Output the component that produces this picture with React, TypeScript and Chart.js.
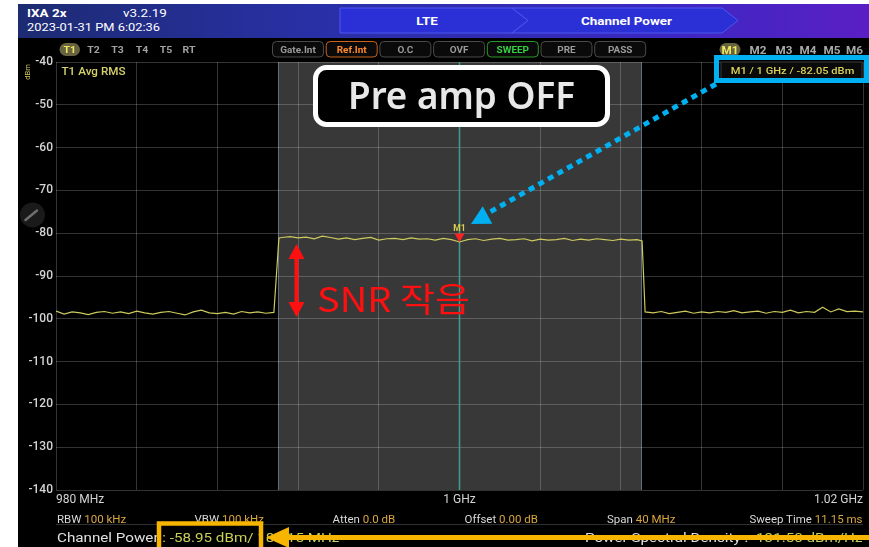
import React, { useEffect, useRef } from "react";
import { Chart, registerables } from "chart.js";

Chart.register(...registerables);

// ---------------- data ----------------
const FREQ_MHZ: number[] = [
  980.0, 980.4, 980.8, 981.2, 981.6, 982.0, 982.4, 982.8, 983.2, 983.6,
  984.0, 984.4, 984.8, 985.2, 985.6, 986.0, 986.4, 986.8, 987.2, 987.6,
  988.0, 988.4, 988.8, 989.2, 989.6, 990.0, 990.4, 990.8, 991.05,
  991.2, 991.6, 992.0, 992.4, 992.8, 993.2, 993.6, 994.0, 994.4, 994.8,
  995.2, 995.6, 996.0, 996.4, 996.8, 997.2, 997.6, 998.0, 998.4, 998.8,
  999.2, 999.6, 1000.0, 1000.4, 1000.8, 1001.2, 1001.6, 1002.0, 1002.4, 1002.8,
  1003.2, 1003.6, 1004.0, 1004.4, 1004.8, 1005.2, 1005.6, 1006.0, 1006.4, 1006.8,
  1007.2, 1007.6, 1008.0, 1008.4, 1008.8, 1009.05, 1009.2,
  1009.6, 1010.0, 1010.4, 1010.8, 1011.2, 1011.6, 1012.0, 1012.4, 1012.8, 1013.2,
  1013.6, 1014.0, 1014.4, 1014.8, 1015.2, 1015.6, 1016.0, 1016.4, 1016.8, 1017.2,
  1017.6, 1018.0, 1018.4, 1018.8, 1019.2, 1019.6, 1020.0,
];

const LEVEL_DBM: number[] = [
  -98.2, -98.9, -98.4, -98.6, -99.0, -98.5, -98.3, -98.7, -98.4, -98.8,
  -98.2, -98.6, -98.9, -98.5, -98.3, -98.7, -99.1, -98.4, -98.0, -98.6,
  -98.8, -98.5, -98.9, -98.3, -98.6, -98.4, -98.7, -98.5, -81.1,
  -81.0, -80.8, -81.1, -80.9, -81.3, -80.7, -81.0, -81.4, -81.1, -81.5,
  -81.2, -81.0, -81.6, -81.3, -81.2, -81.5, -81.1, -81.4, -81.3, -81.6,
  -81.2, -81.5, -82.05, -81.5, -81.3, -81.7, -81.4, -81.2, -81.6, -81.5,
  -81.3, -81.8, -81.4, -81.6, -81.5, -81.2, -81.7, -81.4, -81.6, -81.3,
  -81.5, -81.7, -81.4, -81.6, -81.5, -81.8, -98.4,
  -98.6, -98.3, -98.8, -98.5, -98.2, -98.7, -98.4, -98.6, -98.3, -98.5,
  -98.1, -98.6, -98.4, -98.2, -98.7, -98.3, -98.5, -98.0, -98.6, -98.3,
  -98.5, -97.3, -98.4, -97.7, -98.3, -98.2, -98.4,
];

const Y_MIN = -140;
const Y_MAX = -40;
const Y_STEP = 10;
const X_MIN = 980;
const X_MAX = 1020;
const X_STEP = 4;
const X_TICK_VALUES = [980, 1000, 1020];
const X_TICK_TEXT = ["980 MHz", "1 GHz", "1.02 GHz"];
const CHANNEL_START_MHZ = 991;
const CHANNEL_STOP_MHZ = 1009;
const MARKER_FREQ_MHZ = 1000;
const MARKER_LEVEL_DBM = -82.05;

const TRACE_TABS = ["T1", "T2", "T3", "T4", "T5", "RT"];
const STATUS_PILLS = ["Gate.Int", "Ref.Int", "O.C", "OVF", "SWEEP", "PRE", "PASS"];
const MARKER_TABS = ["M1", "M2", "M3", "M4", "M5", "M6"];
const PARAM_NAMES = ["RBW", "VBW", "Atten", "Offset", "Span", "Sweep Time"];
const PARAM_VALUES = ["100 kHz", "100 kHz", "0.0 dB", "0.00 dB", "40 MHz", "11.15 ms"];

// ---------------- layout constants ----------------
const W = 869;
const H = 547;
const SX = 1.17;
const GRID = "rgba(255,255,255,0.2)";
const CYAN = "#00b0f0";
const ORANGE = "#f7b500";
const RED = "#ff1010";

const spectrumPlugin = {
  id: "spectrumDecor",
  beforeDraw(chart: any) {
    const { ctx, chartArea: a, scales } = chart;
    const xs = scales.x;
    const x1 = xs.getPixelForValue(CHANNEL_START_MHZ);
    const x2 = xs.getPixelForValue(CHANNEL_STOP_MHZ);
    ctx.save();
    ctx.fillStyle = "#000";
    ctx.fillRect(a.left, a.top, a.right - a.left, a.bottom - a.top);
    ctx.fillStyle = "#383838";
    ctx.fillRect(x1, a.top, x2 - x1, a.bottom - a.top);
    ctx.strokeStyle = "#5f6c80";
    ctx.lineWidth = 1;
    [x1, x2].forEach((px: number) => {
      ctx.beginPath();
      ctx.moveTo(Math.round(px) + 0.5, a.top);
      ctx.lineTo(Math.round(px) + 0.5, a.bottom);
      ctx.stroke();
    });
    ctx.restore();
  },
  beforeDatasetsDraw(chart: any) {
    const { ctx, chartArea: a, scales } = chart;
    const mx = scales.x.getPixelForValue(MARKER_FREQ_MHZ);
    ctx.save();
    ctx.strokeStyle = "#3c9d92";
    ctx.lineWidth = 1.5;
    ctx.beginPath();
    ctx.moveTo(mx, a.top);
    ctx.lineTo(mx, a.bottom);
    ctx.stroke();
    ctx.restore();
  },
  afterDatasetsDraw(chart: any) {
    const { ctx, scales } = chart;
    const mx = scales.x.getPixelForValue(MARKER_FREQ_MHZ);
    const my = scales.y.getPixelForValue(MARKER_LEVEL_DBM);
    ctx.save();
    ctx.fillStyle = "#ff2020";
    ctx.beginPath();
    ctx.moveTo(mx, my);
    ctx.lineTo(mx - 5, my - 8.5);
    ctx.lineTo(mx + 5, my - 8.5);
    ctx.closePath();
    ctx.fill();
    ctx.fillStyle = "#d8cf50";
    ctx.font = "bold 8.5px Roboto";
    ctx.textAlign = "center";
    ctx.textBaseline = "middle";
    ctx.fillText("M1", mx, my - 13.5);
    ctx.restore();
  },
};

function T(props: {
  x: number;
  y: number;
  size: number;
  weight?: number | string;
  fill?: string;
  anchor?: "start" | "middle" | "end";
  sx?: number;
  children: React.ReactNode;
}) {
  const { x, y, size, weight = 400, fill = "#dcdcdc", anchor = "start", sx = SX, children } = props;
  return (
    <text
      transform={`translate(${x} ${y}) scale(${sx} 1)`}
      fontFamily="Roboto, 'Noto Sans', sans-serif"
      fontSize={size}
      fontWeight={weight}
      fill={fill}
      textAnchor={anchor}
    >
      {children}
    </text>
  );
}

function Overlay() {
  const tabCenters = [69.7, 93.5, 117.5, 142, 166, 189];
  const mCenters = [730, 758, 784, 808, 832, 854.5];
  const paramX = [57, 194.5, 332.5, 464.5, 607, 862.5];
  const tip = { x: 471, y: 224 };
  const baseC = { x: 487.5, y: 215 };
  const perp = { x: 0.476, y: 0.879 };
  return (
    <svg
      width={W}
      height={H}
      style={{ position: "absolute", left: 0, top: 0, pointerEvents: "none" }}
    >
      <defs>
        <linearGradient id="hdr" x1="0" x2="1" y1="0" y2="0">
          <stop offset="0" stopColor="#1d2b72" />
          <stop offset="0.35" stopColor="#2930a6" />
          <stop offset="0.75" stopColor="#3a28c2" />
          <stop offset="1" stopColor="#5a1fc4" />
        </linearGradient>
      </defs>
      {/* header bar */}
      <rect x={18} y={4} width={W - 18} height={34} fill="url(#hdr)" />
      <polygon points="340,8 512,8 528,20.5 512,33 340,33" fill="#2b30d6" stroke="#4e56f0" strokeWidth={1} />
      <polygon points="512,8 722,8 738,20.5 722,33 512,33 528,20.5" fill="#2b30d6" stroke="#4e56f0" strokeWidth={1} />
      <T x={27} y={16.5} size={11.5} weight={700} fill="#ffffff">IXA 2x</T>
      <T x={123} y={16.5} size={11.5} fill="#ffffff">v3.2.19</T>
      <T x={27} y={30.5} size={11} fill="#ffffff">2023-01-31 PM 6:02:36</T>
      <T x={427} y={24.5} size={11.5} weight={700} fill="#ffffff" anchor="middle">LTE</T>
      <T x={626.5} y={24.5} size={11.5} weight={700} fill="#ffffff" anchor="middle">Channel Power</T>

      {/* trace tabs */}
      <rect x={59.5} y={43} width={20.5} height={13} rx={6.5} fill="#676340" />
      {TRACE_TABS.map((t, i) => (
        <T key={t} x={tabCenters[i]} y={53} size={9} weight={700} anchor="middle" fill={i === 0 ? "#f0e860" : "#a0a0a0"}>
          {t}
        </T>
      ))}

      {/* status pills */}
      {STATUS_PILLS.map((p, i) => {
        const x = 272.5 + i * 53.7;
        const stroke = p === "Ref.Int" ? "#c8641e" : p === "SWEEP" ? "#2a9a2a" : "#4a4a4a";
        const fill = p === "Ref.Int" ? "#ff8a2a" : p === "SWEEP" ? "#33d040" : "#9a9a9a";
        return (
          <g key={p}>
            <rect x={x} y={41.5} width={51} height={15.5} rx={4} fill="#0a0a0a" stroke={stroke} strokeWidth={1} />
            <T x={x + 25.5} y={52.5} size={8.5} weight={700} anchor="middle" fill={fill}>{p}</T>
          </g>
        );
      })}

      {/* marker tabs */}
      <rect x={719.5} y={43} width={21} height={13} rx={6.5} fill="#676340" />
      {MARKER_TABS.map((m, i) => (
        <T key={m} x={mCenters[i]} y={53.5} size={10} weight={700} anchor="middle" fill={i === 0 ? "#f0e860" : "#a8a8a8"}>
          {m}
        </T>
      ))}

      {/* unit + trace label */}
      <text
        transform="translate(29.5 72) rotate(-90)"
        fontFamily="Roboto, sans-serif"
        fontSize={7.5}
        fill="#cfc860"
        textAnchor="middle"
      >
        dBm
      </text>
      <T x={61.5} y={75} size={10} weight={500} fill="#d6d26a">T1 Avg RMS</T>

      {/* marker readout */}
      <rect x={721} y={62} width={141} height={17} fill="#0a0a0a" stroke="#3a3a3a" strokeWidth={1} />
      <T x={792.5} y={74} size={9.5} weight={500} anchor="middle" fill="#d9d15a">M1 / 1 GHz / -82.05 dBm</T>

      {/* pen icon */}
      <circle cx={32.5} cy={215} r={12.5} fill="#1a1a1a" />
      <line x1={25.5} y1={220} x2={37} y2={210.5} stroke="#6e6e6e" strokeWidth={2.5} strokeLinecap="round" />

      {/* footer */}
      <line x1={56} y1={524.5} x2={863} y2={524.5} stroke="#303030" strokeWidth={1} />
      {PARAM_NAMES.map((n, i) => (
        <T key={n} x={paramX[i]} y={523} size={10} sx={1.15} anchor={i === 5 ? "end" : "start"} fill="#d8d8d8">
          {n}
          <tspan fill="#d9a640">{" " + PARAM_VALUES[i]}</tspan>
        </T>
      ))}
      <T x={57} y={542} size={13} fill="#e0e0e0">
        Channel Power
        <tspan fill="#c9cf58">{" : -58.95 dBm/ 18.015 MHz"}</tspan>
      </T>
      <T x={862.5} y={542} size={13} anchor="end" fill="#e0e0e0">
        Power Spectral Density :<tspan fill="#c9cf58">{" -131.50 dBm/Hz"}</tspan>
      </T>

      {/* annotation: Pre amp OFF */}
      <rect x={315.5} y={67.5} width={292} height={57} rx={11} fill="#000" stroke="#ffffff" strokeWidth={5} />
      <text
        x={461.5}
        y={109}
        fontFamily="'Noto Sans', sans-serif"
        fontSize={37}
        fontWeight={600}
        fill="#e8e8e8"
        textAnchor="middle"
        textLength={227}
        lengthAdjust="spacingAndGlyphs"
      >
        Pre amp OFF
      </text>

      {/* cyan readout box + dotted arrow */}
      <rect x={716.5} y={57.5} width={150} height={23} fill="none" stroke={CYAN} strokeWidth={5} />
      <line x1={716} y1={84} x2={490} y2={212} stroke={CYAN} strokeWidth={5} strokeDasharray="6 5" />
      <polygon
        points={`${tip.x},${tip.y} ${baseC.x - perp.x * 10},${baseC.y - perp.y * 10} ${baseC.x + perp.x * 10},${baseC.y + perp.y * 10}`}
        fill={CYAN}
      />

      {/* red SNR arrow + text */}
      <line x1={296.5} y1={256} x2={296.5} y2={305} stroke={RED} strokeWidth={4} />
      <polygon points="296.5,244 288.5,259 304.5,259" fill={RED} />
      <polygon points="296.5,317 288.5,302 304.5,302" fill={RED} />
      <text
        x={317}
        y={311.5}
        fontFamily="'Noto Sans CJK KR', 'Noto Sans', sans-serif"
        fontSize={34}
        fontWeight={400}
        fill={RED}
        textLength={153}
        lengthAdjust="spacingAndGlyphs"
      >
        SNR 작음
      </text>

      {/* orange channel power highlight */}
      <rect x={159} y={523.5} width={102} height={30} fill="none" stroke={ORANGE} strokeWidth={4.5} />
      <line x1={W} y1={537.5} x2={284} y2={537.5} stroke={ORANGE} strokeWidth={5} />
      <polygon points="266,537.5 289,527 289,548" fill={ORANGE} />
    </svg>
  );
}

export default function App() {
  const ref = useRef<HTMLCanvasElement>(null);

  useEffect(() => {
    const canvas = ref.current;
    if (!canvas) return;
    const chart = new Chart(canvas, {
      type: "line",
      data: {
        datasets: [
          {
            label: "T1 Avg RMS",
            data: FREQ_MHZ.map((f, i) => ({ x: f, y: LEVEL_DBM[i] })),
            borderColor: "#cdc95c",
            borderWidth: 1.2,
            pointRadius: 0,
            tension: 0,
            fill: false,
          },
        ],
      },
      options: {
        responsive: false,
        animation: false,
        devicePixelRatio: 1,
        layout: { padding: { top: 62, right: 6, bottom: 37, left: 0 } },
        plugins: { legend: { display: false }, tooltip: { enabled: false } },
        scales: {
          x: {
            type: "linear",
            min: X_MIN,
            max: X_MAX,
            border: { display: false },
            grid: { color: GRID, drawTicks: false, lineWidth: 1 },
            ticks: {
              stepSize: X_STEP,
              autoSkip: false,
              maxRotation: 0,
              minRotation: 0,
              align: "inner",
              padding: 3,
              color: "#d4d4d4",
              font: { family: "Roboto", size: 12 },
              callback: (v: any) => {
                const idx = X_TICK_VALUES.findIndex((t) => Math.abs(t - Number(v)) < 1e-6);
                return idx >= 0 ? X_TICK_TEXT[idx] : "";
              },
            },
            afterFit: (s: any) => {
              s.height = 20;
            },
          },
          y: {
            type: "linear",
            min: Y_MIN,
            max: Y_MAX,
            border: { display: false },
            grid: { color: GRID, drawTicks: false, lineWidth: 1 },
            ticks: {
              stepSize: Y_STEP,
              padding: 3,
              color: "#d4d4d4",
              font: { family: "Roboto", size: 12, weight: "500" },
            },
            afterFit: (s: any) => {
              s.width = 56;
            },
          },
        },
      } as any,
      plugins: [spectrumPlugin],
    });
    return () => chart.destroy();
  }, []);

  return (
    <div
      style={{
        position: "fixed",
        left: 0,
        top: 0,
        width: W,
        height: H,
        background: "#ffffff",
        overflow: "hidden",
      }}
    >
      <div style={{ position: "absolute", left: 18, top: 4, width: W - 18, height: H - 4, background: "#000" }} />
      <canvas ref={ref} width={W} height={H} style={{ position: "absolute", left: 0, top: 0, display: "block" }} />
      <Overlay />
    </div>
  );
}
